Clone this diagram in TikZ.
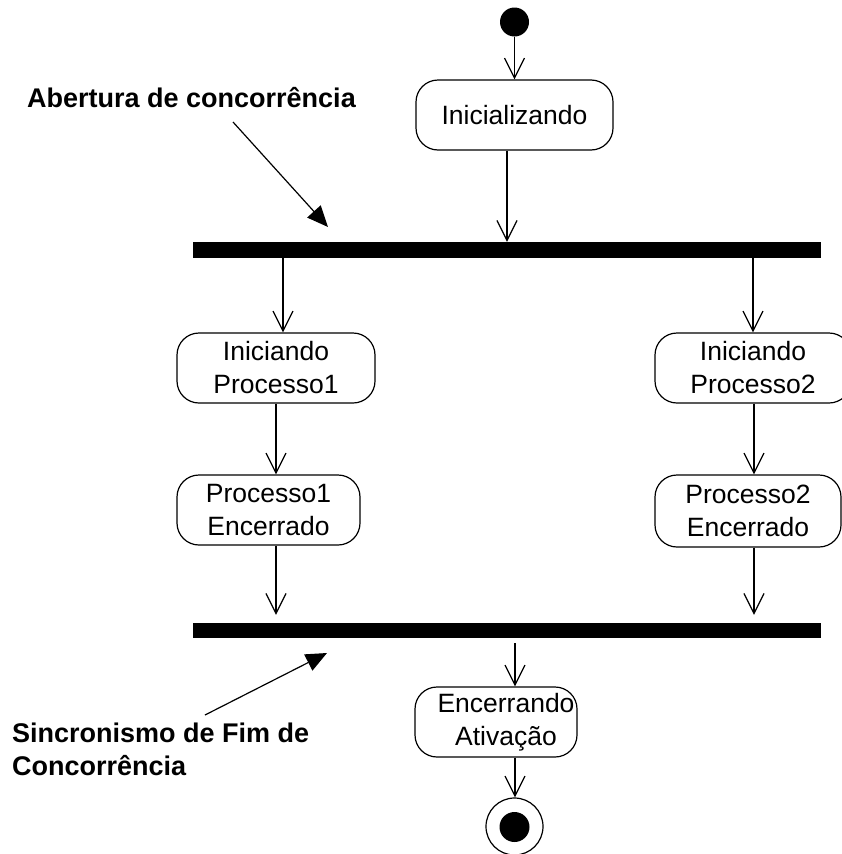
\documentclass[tikz,border=0pt]{standalone}
\usepackage{fontspec}
\setmainfont{Liberation Sans}
\usetikzlibrary{arrows.meta,calc}
\tikzset{
  actbox/.style={draw=black, line width=1.2pt, rounded corners=22pt, align=center,
    inner sep=0pt, font=\fontsize{26.5}{33}\selectfont},
  syncbar/.style={fill=black, draw=none, inner sep=0pt},
  flow/.style={line width=1.2pt, -{Straight Barb[length=20pt,width=20pt,line width=1.2pt]}},
  note/.style={line width=1.2pt, -{Triangle[length=21pt,width=18pt]}},
  notelabel/.style={font=\fontsize{27}{33}\selectfont\bfseries, inner sep=0pt, align=left}
}
\begin{document}
\begin{tikzpicture}[x=1pt,y=-1pt]
\useasboundingbox (0,0) rectangle (841,854);
% start / end
\node[circle, fill=black, inner sep=0pt, minimum size=29pt] (start) at (514.5,22) {};
\node[circle, draw=black, line width=1.2pt, fill=white, inner sep=0pt, minimum size=57pt] (endc) at (514.5,826.5) {};
\node[circle, fill=black, inner sep=0pt, minimum size=30pt] (endin) at (514.5,827) {};
% activities
\node[actbox, minimum width=197pt, minimum height=70pt] (init) at (514.5,115) {Inicializando};
\node[actbox, minimum width=198pt, minimum height=70pt] (ip1) at (276,368) {Iniciando\\Processo1};
\node[actbox, minimum width=196pt, minimum height=70pt] (ip2) at (753,368) {Iniciando\\Processo2};
\node[actbox, minimum width=183pt, minimum height=70pt] (p1e) at (268.5,510) {Processo1\\Encerrado};
\node[actbox, minimum width=186pt, minimum height=72pt] (p2e) at (748,511) {Processo2\\Encerrado};
\node[actbox, minimum width=162pt, minimum height=70pt] (enc) at (496,722) {\hspace*{20pt}Encerrando\\\hspace*{20pt}Ativação};
% bars
\node[syncbar, minimum width=628pt, minimum height=16pt] (bar1) at (507,250) {};
\node[syncbar, minimum width=628pt, minimum height=15pt] (bar2) at (507,630.5) {};
% helper x positions
\coordinate (xa) at (507,0);
\coordinate (xb) at (283,0);
\coordinate (xc) at (753,0);
\coordinate (xd) at (276,0);
\coordinate (xe) at (754,0);
\coordinate (xf) at (515,0);
% flows
\draw[flow] (start.south) -- (init.north -| start);
\draw[flow] (init.south -| xa) -- (bar1.north -| xa);
\draw[flow] (bar1.south -| xb) -- (ip1.north -| xb);
\draw[flow] (bar1.south -| xc) -- (ip2.north -| xc);
\draw[flow] (ip1.south -| xd) -- (p1e.north -| xd);
\draw[flow] (ip2.south -| xe) -- (p2e.north -| xe);
\draw[flow, shorten >=8pt] (p1e.south -| xd) -- (bar2.north -| xd);
\draw[flow, shorten >=8pt] (p2e.south -| xe) -- (bar2.north -| xe);
\draw[flow, shorten <=5pt] (bar2.south -| xf) -- (enc.north -| xf);
\draw[flow] (enc.south -| xf) -- (endc.north -| xf);
% annotations
\node[notelabel, anchor=base west] (lab1) at (27,107) {Abertura de concorrência};
\node[notelabel, anchor=base west] (lab2) at (12,775) {Sincronismo de Fim de\\Concorrência};
\coordinate (n1s) at (233,122);
\coordinate (n1e) at (328,227);
\coordinate (n2s) at (205,715);
\coordinate (n2e) at (327,653);
\draw[note] (n1s) -- (n1e);
\draw[note] (n2s) -- (n2e);
\end{tikzpicture}
\end{document}
